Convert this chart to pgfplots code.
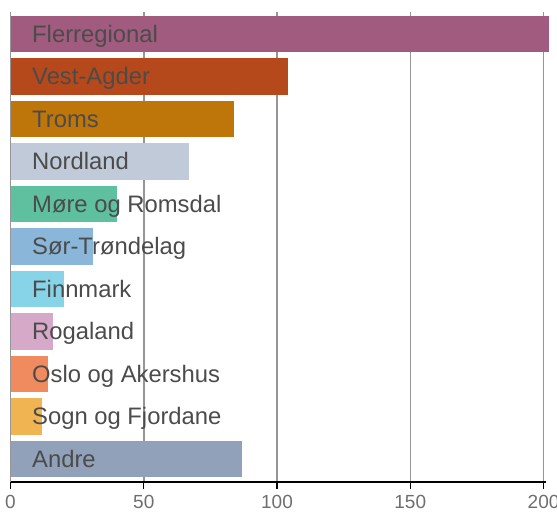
\documentclass[border=0pt]{standalone}
\usepackage{fontspec}
\setmainfont{Liberation Sans}
\usepackage{pgfplots}
\pgfplotsset{compat=1.18}
\definecolor{c1}{RGB}{161,91,126}
\definecolor{c2}{RGB}{182,73,27}
\definecolor{c3}{RGB}{190,118,10}
\definecolor{c4}{RGB}{192,202,216}
\definecolor{c5}{RGB}{94,192,158}
\definecolor{c6}{RGB}{138,182,217}
\definecolor{c7}{RGB}{135,212,232}
\definecolor{c8}{RGB}{214,169,200}
\definecolor{c9}{RGB}{240,139,96}
\definecolor{c10}{RGB}{240,180,82}
\definecolor{c11}{RGB}{145,161,185}
\definecolor{lbl}{RGB}{75,75,75}
\definecolor{tck}{RGB}{110,110,110}
\definecolor{grd}{RGB}{150,150,150}
\begin{document}
\begin{tikzpicture}
\begin{axis}[
  at={(10.5pt,31pt)}, anchor=south west,
  scale only axis, width=535.7pt, height=470pt,
  xmin=0, xmax=201, ymin=-0.52, ymax=10.54, y dir=reverse,
  axis x line*=bottom, axis y line=none,
  xtick={0,50,100,150,200}, ytick=\empty,
  xmajorgrids, major grid style={grd, line width=1.5pt},
  tick align=outside, major tick length=7pt,
  every tick/.style={black, line width=1.3pt},
  x axis line style={black, line width=1.3pt, -},
  /pgf/number format/assume math mode=true,
  xticklabel style={font=\fontsize{19}{22}\selectfont, text=tck, yshift=-3pt},
  clip=false,
  xbar, bar width=0.86, bar shift=0pt,
  every axis plot/.append style={draw=none},
]
\addplot[fill=c1] coordinates {(202,0)};
\addplot[fill=c2] coordinates {(104,1)};
\addplot[fill=c3] coordinates {(84,2)};
\addplot[fill=c4] coordinates {(67,3)};
\addplot[fill=c5] coordinates {(40,4)};
\addplot[fill=c6] coordinates {(31,5)};
\addplot[fill=c7] coordinates {(20,6)};
\addplot[fill=c8] coordinates {(16,7)};
\addplot[fill=c9] coordinates {(14,8)};
\addplot[fill=c10] coordinates {(12,9)};
\addplot[fill=c11] coordinates {(87,10)};
\foreach \n/\t in {0/Flerregional,1/Vest-Agder,2/Troms,3/Nordland,4/Møre og Romsdal,5/Sør-Trøndelag,6/Finnmark,7/Rogaland,8/Oslo og Akershus,9/Sogn og Fjordane,10/Andre}{
  \edef\tmp{\noexpand\node[anchor=base west, inner sep=0pt, xshift=21.5pt, yshift=-8.4pt, text=lbl, font=\noexpand\fontsize{23.8}{26}\noexpand\selectfont] at (axis cs:0,\n) {\t};}
  \tmp
}
\end{axis}
\pgfresetboundingbox
\useasboundingbox (0,0) rectangle (557pt,513pt);
\end{tikzpicture}
\end{document}
